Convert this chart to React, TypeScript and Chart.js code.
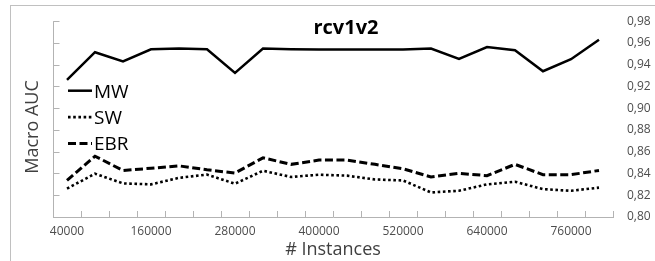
import React, { useEffect, useRef } from "react";
import { Chart, registerables } from "chart.js";

Chart.register(...registerables);

const categories = [
  "40000", "80000", "120000", "160000", "200000", "240000", "280000", "320000", "360000", "400000",
  "440000", "480000", "520000", "560000", "600000", "640000", "680000", "720000", "760000", "800000",
];

const mwValues = [
  0.926, 0.9515, 0.943, 0.9542, 0.9548, 0.9542, 0.9325, 0.9548, 0.9542, 0.954,
  0.954, 0.954, 0.954, 0.9548, 0.9453, 0.9562, 0.9533, 0.934, 0.945, 0.963,
];

const swValues = [
  0.8261, 0.8398, 0.8309, 0.830, 0.836, 0.839, 0.8306, 0.8425, 0.8368, 0.8389,
  0.838, 0.8345, 0.8336, 0.8226, 0.8241, 0.830, 0.8324, 0.8256, 0.8241, 0.827,
];

const ebrValues = [
  0.8336, 0.8559, 0.8428, 0.8448, 0.847, 0.8434, 0.8404, 0.8544, 0.8484, 0.8523,
  0.8523, 0.8484, 0.8443, 0.8368, 0.8401, 0.838, 0.8484, 0.8389, 0.8389, 0.8428,
];

const seriesLabels = ["MW", "SW", "EBR"];
const chartTitle = "rcv1v2";
const xTitle = "# Instances";
const yTitle = "Macro AUC";
const yMin = 0.8;
const yMax = 0.98;
const yStep = 0.02;

const FONT = "'Open Sans', 'DejaVu Sans', sans-serif";
const AXIS_COLOR = "#b3b3b3";

const decorPlugin = {
  id: "decor",
  afterDraw(chart: any) {
    const { ctx, chartArea, scales } = chart;
    const xs = scales.x;
    const ys = scales.y;
    ctx.save();

    // left axis line with inside ticks
    ctx.strokeStyle = AXIS_COLOR;
    ctx.lineWidth = 1;
    ctx.setLineDash([]);
    const lx = Math.round(chartArea.left) + 0.5;
    ctx.beginPath();
    ctx.moveTo(lx, chartArea.top);
    ctx.lineTo(lx, chartArea.bottom);
    ys.ticks.forEach((t: any) => {
      const py = Math.round(ys.getPixelForValue(t.value)) + 0.5;
      ctx.moveTo(lx, py);
      ctx.lineTo(lx + 6, py);
    });
    // x axis inside ticks at category boundaries
    const half = (xs.getPixelForValue(1) - xs.getPixelForValue(0)) / 2;
    for (let i = 0; i < categories.length; i++) {
      const px = Math.round(xs.getPixelForValue(i) + half) + 0.5;
      ctx.moveTo(px, chartArea.bottom);
      ctx.lineTo(px, chartArea.bottom - 6);
    }
    ctx.stroke();

    // title
    ctx.fillStyle = "#000";
    ctx.font = `bold 20px ${FONT}`;
    ctx.textAlign = "center";
    ctx.textBaseline = "alphabetic";
    ctx.fillText(chartTitle, 346, 34);

    // y title (rotated)
    ctx.save();
    ctx.translate(38, 127);
    ctx.rotate(-Math.PI / 2);
    ctx.font = `18px ${FONT}`;
    ctx.fillStyle = "#404040";
    ctx.textAlign = "center";
    ctx.textBaseline = "alphabetic";
    ctx.fillText(yTitle, 0, 0);
    ctx.restore();

    // legend inside plot
    chart.data.datasets.forEach((ds: any, i: number) => {
      const ly = 90.7 + 26.4 * i;
      ctx.save();
      ctx.strokeStyle = ds.borderColor;
      ctx.lineWidth = ds.borderWidth;
      ctx.setLineDash(ds.borderDash || []);
      ctx.beginPath();
      ctx.moveTo(68, ly);
      ctx.lineTo(92, ly);
      ctx.stroke();
      ctx.restore();
      ctx.fillStyle = "#000";
      ctx.font = `19px ${FONT}`;
      ctx.textAlign = "left";
      ctx.textBaseline = "alphabetic";
      ctx.fillText(ds.label, 94, ly + 6.8);
    });

    ctx.restore();
  },
};

export default function App() {
  const canvasRef = useRef<HTMLCanvasElement | null>(null);

  useEffect(() => {
    if (!canvasRef.current) return;
    const chart = new Chart(canvasRef.current, {
      type: "line",
      data: {
        labels: categories,
        datasets: [
          {
            label: seriesLabels[0],
            data: mwValues,
            borderColor: "#000",
            borderWidth: 2.5,
            pointRadius: 0,
            tension: 0,
            fill: false,
          },
          {
            label: seriesLabels[1],
            data: swValues,
            borderColor: "#000",
            borderWidth: 2.6,
            borderDash: [2.6, 2.6],
            pointRadius: 0,
            tension: 0,
            fill: false,
          },
          {
            label: seriesLabels[2],
            data: ebrValues,
            borderColor: "#000",
            borderWidth: 3,
            borderDash: [8, 3.5],
            pointRadius: 0,
            tension: 0,
            fill: false,
          },
        ],
      },
      options: {
        animation: false,
        responsive: false,
        maintainAspectRatio: false,
        layout: { padding: { left: 53, top: 15, right: 0, bottom: 0 } },
        plugins: {
          legend: { display: false },
          title: { display: false },
          tooltip: { enabled: false },
        },
        scales: {
          x: {
            type: "category",
            offset: true,
            grid: { display: false, drawTicks: false },
            border: { display: true, color: AXIS_COLOR, width: 1 },
            ticks: {
              autoSkip: false,
              maxRotation: 0,
              minRotation: 0,
              padding: 7,
              color: "#4d4d4d",
              font: { family: FONT, size: 12 },
              callback: (_v: any, i: number) => (i % 3 === 0 ? categories[i] : ""),
            },
            title: {
              display: true,
              text: xTitle,
              color: "#404040",
              font: { family: FONT, size: 18 },
              padding: { top: 0, bottom: 0 },
            },
            afterFit: (s: any) => {
              s.height = 44;
            },
          },
          y: {
            position: "right",
            min: yMin,
            max: yMax,
            grid: { display: false, drawTicks: false },
            border: { display: false },
            ticks: {
              stepSize: yStep,
              padding: 14,
              color: "#4d4d4d",
              font: { family: FONT, size: 12 },
              callback: (v: any) => Number(v).toFixed(2).replace(".", ","),
            },
            afterFit: (s: any) => {
              s.width = 42;
            },
          },
        },
      },
      plugins: [decorPlugin],
    });
    return () => chart.destroy();
  }, []);

  return (
    <div style={{ position: "fixed", left: 0, top: 0, width: 655, height: 261, background: "#fff", overflow: "hidden" }}>
      <div
        style={{
          position: "absolute",
          left: 10,
          top: 5,
          width: 700,
          height: 300,
          border: "1px solid #c0c0c0",
          boxSizing: "border-box",
        }}
      />
      <canvas ref={canvasRef} width={655} height={261} style={{ position: "absolute", left: 0, top: 0, width: 655, height: 261 }} />
    </div>
  );
}
